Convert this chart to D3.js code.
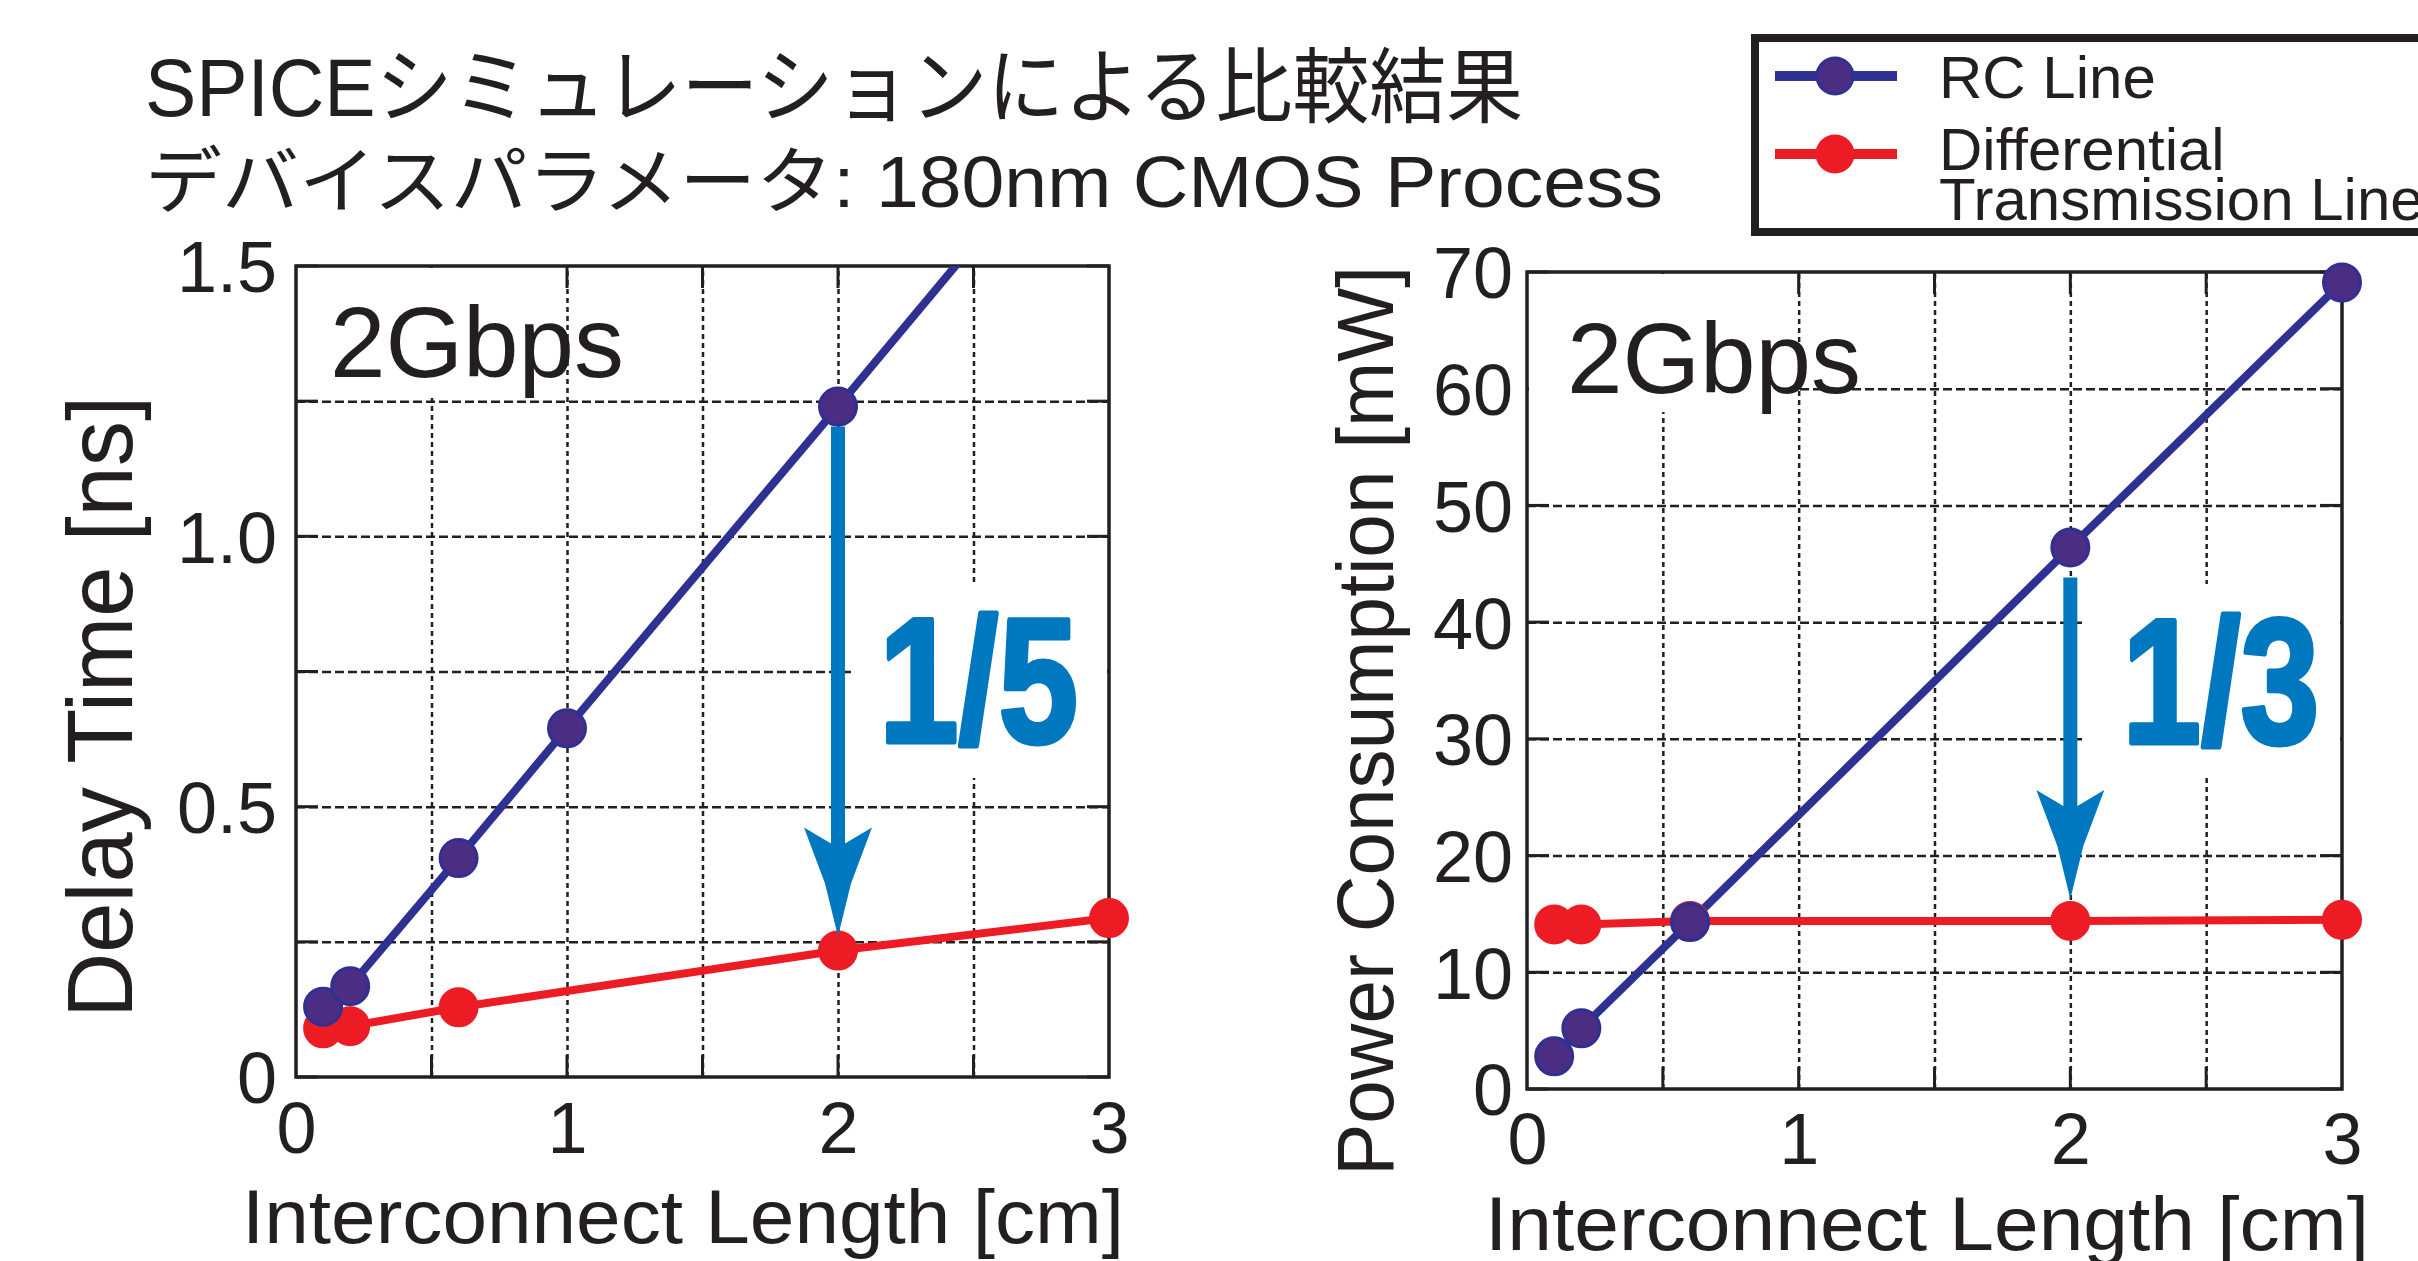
<!DOCTYPE html>
<html>
<head>
<meta charset="utf-8">
<script src="https://cdn.jsdelivr.net/npm/d3@7"></script>
<style>
  body { margin: 0; background: #fff; }
  text { font-family: "Liberation Sans", Arial, "Noto Sans CJK JP", sans-serif; fill: #231f20; }
</style>
</head>
<body>
<div id="container"></div>
<script>
/* CONSTANTS AND GLOBALS */
const width = 2418, height = 1261;
const ink = "#231f20", rcBlue = "#2e3192", rcFill = "#4b2d84", diffRed = "#ed1c24", arrowBlue = "#0078bf";

/* DATA */
const titleLines = ["SPICEシミュレーションによる比較結果", "デバイスパラメータ: 180nm CMOS Process"];
const seriesNames = ["RC Line", "Differential", "Transmission Line"];

// delay panel [ns]
const rcDelayX = [0.1, 0.2, 0.6, 1, 2, 3];
const rcDelay = [0.13, 0.168, 0.405, 0.645, 1.24, 1.84];
const diffDelayX = [0.1, 0.2, 0.6, 2, 3];
const diffDelay = [0.09, 0.094, 0.129, 0.234, 0.294];
const delayTicks = [0, 0.5, 1.0, 1.5];
const delayTickLabels = ["0", "0.5", "1.0", "1.5"];

// power panel [mW]
const rcPowerX = [0.1, 0.2, 0.6, 2, 3];
const rcPower = [2.8, 5.2, 14.3, 46.4, 69.1];
const diffPowerX = [0.1, 0.2, 0.6, 2, 3];
const diffPower = [14.1, 14.1, 14.4, 14.4, 14.5];
const powerTicks = [0, 10, 20, 30, 40, 50, 60, 70];

const lengthTicks = [0, 1, 2, 3];
const ratioLabels = ["1/5", "1/3"];

const svg = d3.select("#container").append("svg")
  .attr("width", width).attr("height", height);
svg.append("rect").attr("width", width).attr("height", height).attr("fill", "#fff");

// TITLE
svg.append("text").attr("x", 145).attr("y", 116)
  .attr("font-size", 82).attr("textLength", 1378).attr("lengthAdjust", "spacingAndGlyphs")
  .text(titleLines[0]);
svg.append("text").attr("x", 145).attr("y", 207)
  .attr("font-size", 73).attr("textLength", 1518).attr("lengthAdjust", "spacingAndGlyphs")
  .text(titleLines[1]);

// LEGEND
const legend = svg.append("g");
legend.append("rect").attr("x", 1755).attr("y", 38).attr("width", 720).attr("height", 194)
  .attr("fill", "#fff").attr("stroke", ink).attr("stroke-width", 8);
[[rcBlue, rcFill, 76], [diffRed, diffRed, 154]].forEach(([c, f, y]) => {
  legend.append("line").attr("x1", 1775).attr("x2", 1897).attr("y1", y).attr("y2", y)
    .attr("stroke", c).attr("stroke-width", 10);
  legend.append("circle").attr("cx", 1835).attr("cy", y).attr("r", 18)
    .attr("fill", f).attr("stroke", c).attr("stroke-width", 3);
});
legend.append("text").attr("x", 1939).attr("y", 98).attr("font-size", 60).text(seriesNames[0]);
legend.append("text").attr("x", 1939).attr("y", 170).attr("font-size", 60).text(seriesNames[1]);
legend.append("text").attr("x", 1939).attr("y", 220).attr("font-size", 60).text(seriesNames[2]);

/* PANELS */
function drawPanel(p) {
  const x = d3.scaleLinear().domain([0, 3]).range([p.left, p.right]);
  const y = d3.scaleLinear().domain([0, p.yMax]).range([p.bottom, p.top]);
  const g = svg.append("g");

  // GRID
  g.append("g").attr("transform", `translate(0,${p.bottom})`)
    .call(d3.axisBottom(x).tickValues(d3.range(0.5, 3, 0.5)).tickSize(-(p.bottom - p.top)).tickFormat(""))
    .call(a => a.select(".domain").remove())
    .call(a => a.selectAll("line").attr("stroke", ink).attr("stroke-width", 2.5).attr("stroke-dasharray", "5,4"));
  g.append("g").attr("transform", `translate(${p.left},0)`)
    .call(d3.axisLeft(y).tickValues(p.gridY.filter(v => v > 0 && v < p.yMax)).tickSize(-(p.right - p.left)).tickFormat(""))
    .call(a => a.select(".domain").remove())
    .call(a => a.selectAll("line").attr("stroke", ink).attr("stroke-width", 2.5).attr("stroke-dasharray", "9,4"));

  // inner tick marks
  const tk = 22;
  const ticks = g.append("g").attr("stroke", ink).attr("stroke-width", 3);
  p.gridY.forEach(v => {
    ticks.append("line").attr("x1", p.left).attr("x2", p.left + tk).attr("y1", y(v)).attr("y2", y(v));
    ticks.append("line").attr("x1", p.right - tk).attr("x2", p.right).attr("y1", y(v)).attr("y2", y(v));
  });
  d3.range(0.5, 3, 0.5).forEach(v => {
    ticks.append("line").attr("x1", x(v)).attr("x2", x(v)).attr("y1", p.bottom).attr("y2", p.bottom - tk);
    ticks.append("line").attr("x1", x(v)).attr("x2", x(v)).attr("y1", p.top).attr("y2", p.top + tk);
  });

  // white patches behind annotations
  g.append("rect").attr("x", p.left + 2).attr("y", p.top + 2)
    .attr("width", p.gbpsBox[0]).attr("height", p.gbpsBox[1]).attr("fill", "#fff");
  g.append("rect").attr("x", p.ratioBox[0]).attr("y", p.ratioBox[1])
    .attr("width", p.right - 2 - p.ratioBox[0]).attr("height", p.ratioBox[2]).attr("fill", "#fff");

  // FRAME
  g.append("rect").attr("x", p.left).attr("y", p.top)
    .attr("width", p.right - p.left).attr("height", p.bottom - p.top)
    .attr("fill", "none").attr("stroke", ink).attr("stroke-width", 3.5);

  // TICK LABELS
  g.append("g").attr("transform", `translate(${p.left},0)`)
    .call(d3.axisLeft(y).tickValues(p.yTicks).tickSize(0).tickFormat((d, i) => p.yTickLabels[i]))
    .call(a => a.select(".domain").remove())
    .call(a => a.selectAll("text").attr("x", -p.yLabGap).attr("dy", "0.36em")
      .attr("font-size", 72).attr("font-family", null).attr("fill", ink));
  g.append("g").attr("transform", `translate(0,${p.bottom})`)
    .call(d3.axisBottom(x).tickValues(lengthTicks).tickSize(0).tickFormat(d3.format("d")))
    .call(a => a.select(".domain").remove())
    .call(a => a.selectAll("text").attr("y", p.xLabDrop).attr("dy", 0)
      .attr("font-size", 72).attr("font-family", null).attr("fill", ink));

  // AXIS TITLES
  g.append("text").attr("transform", `translate(${p.yTitle[0]},${p.yTitle[1]}) rotate(-90)`)
    .attr("text-anchor", "middle").attr("font-size", p.yTitle[2])
    .attr("textLength", p.yTitle[3]).attr("lengthAdjust", "spacingAndGlyphs").text(p.yTitleText);
  g.append("text").attr("x", p.xTitle[0]).attr("y", p.xTitle[1])
    .attr("text-anchor", "middle").attr("font-size", 76)
    .attr("textLength", p.xTitle[2]).attr("lengthAdjust", "spacingAndGlyphs")
    .text("Interconnect Length [cm]");

  // 2Gbps
  g.append("text").attr("x", p.gbps[0]).attr("y", p.gbps[1]).attr("font-size", 100)
    .attr("textLength", 294).attr("lengthAdjust", "spacingAndGlyphs").text("2Gbps");

  // LINES
  const clipId = "clip" + p.id;
  svg.append("clipPath").attr("id", clipId).append("rect")
    .attr("x", p.left).attr("y", p.top).attr("width", p.right - p.left).attr("height", p.bottom - p.top);
  const lineGen = d3.line().x(d => x(d[0])).y(d => y(d[1]));
  const series = [
    { pts: d3.zip(p.diffX, p.diffY), stroke: diffRed, fill: diffRed, w: 8 },
    { pts: d3.zip(p.rcX, p.rcY), stroke: rcBlue, fill: rcFill, w: 8 }
  ];
  series.forEach(s => {
    g.append("path").datum(s.pts).attr("d", lineGen).attr("fill", "none")
      .attr("stroke", s.stroke).attr("stroke-width", s.w).attr("clip-path", `url(#${clipId})`);
  });
  series.forEach(s => {
    g.selectAll(null).data(s.pts.filter(d => d[1] <= p.yMax)).join("circle")
      .attr("cx", d => x(d[0])).attr("cy", d => y(d[1])).attr("r", 18.5)
      .attr("fill", s.fill).attr("stroke", s.stroke).attr("stroke-width", 3);
  });

  // ARROW from RC to differential at 2 cm
  const ax = x(2);
  const y0 = y(p.rcY[p.rcX.indexOf(2)]) + p.arrowGap[0];
  const tip = y(p.diffY[p.diffX.indexOf(2)]) - p.arrowGap[1];
  const pts = [[-7, y0 - tip], [7, y0 - tip], [7, -93], [34, -109], [13, -53], [0, 0],
               [-13, -53], [-34, -109], [-7, -93]];
  g.append("path").attr("d", "M" + pts.map(q => [ax + q[0], tip + q[1]]).join("L") + "Z")
    .attr("fill", arrowBlue);

  g.append("text").attr("x", ax + p.ratio[0]).attr("y", p.ratio[1])
    .attr("font-family", "Inter, 'DejaVu Sans', sans-serif").attr("font-weight", 900)
    .attr("font-size", 178).attr("textLength", p.ratio[2]).attr("lengthAdjust", "spacingAndGlyphs")
    .attr("stroke", arrowBlue).attr("stroke-width", 5).attr("stroke-linejoin", "round")
    .style("fill", arrowBlue).text(p.ratioText);
}

drawPanel({
  id: "delay", left: 296, right: 1109, top: 266, bottom: 1077, yMax: 1.5,
  gridY: d3.range(0, 1.51, 0.25), yTicks: delayTicks, yTickLabels: delayTickLabels,
  yLabGap: 19, xLabDrop: 76,
  yTitle: [132, 707, 92, 622], yTitleText: "Delay Time [ns]",
  xTitle: [683, 1243, 882],
  gbps: [330, 377], gbpsBox: [222, 130], ratioBox: [852, 584, 194],
  rcX: rcDelayX, rcY: rcDelay, diffX: diffDelayX, diffY: diffDelay,
  arrowGap: [20, 14], ratio: [41, 742, 199], ratioText: ratioLabels[0]
});

drawPanel({
  id: "power", left: 1527, right: 2342, top: 272, bottom: 1089, yMax: 70,
  gridY: powerTicks, yTicks: powerTicks, yTickLabels: powerTicks.map(String),
  yLabGap: 14, xLabDrop: 75,
  yTitle: [1393, 721, 79, 910], yTitleText: "Power Consumption [mW]",
  xTitle: [1927, 1250, 884],
  gbps: [1567, 393], gbpsBox: [266, 138], ratioBox: [2083, 584, 192],
  rcX: rcPowerX, rcY: rcPower, diffX: diffPowerX, diffY: diffPower,
  arrowGap: [30, 22], ratio: [52, 743, 197], ratioText: ratioLabels[1]
});
</script>
</body>
</html>
